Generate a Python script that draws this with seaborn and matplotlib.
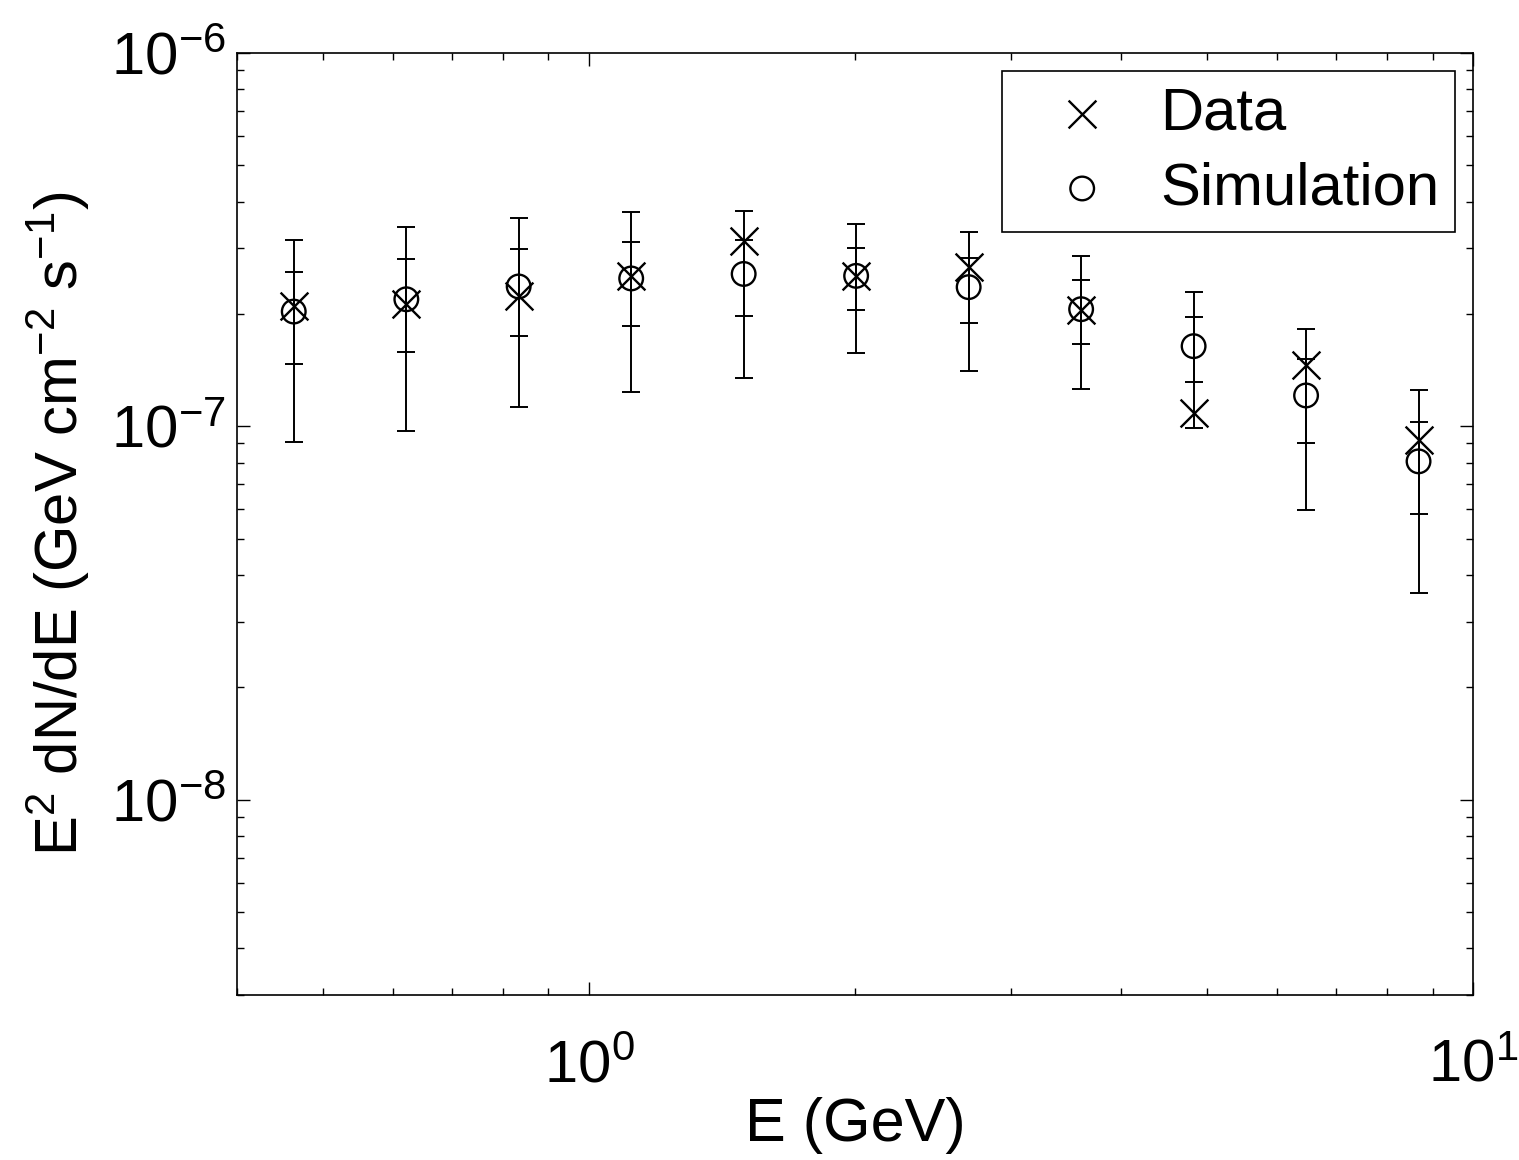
import matplotlib
matplotlib.use("Agg")
import matplotlib.pyplot as plt
import seaborn as sns
from matplotlib.ticker import LogLocator, NullFormatter

# Energy bin centres (GeV)
energy = [0.4637, 0.6217, 0.8330, 1.1166, 1.4966, 2.0059,
          2.6889, 3.6041, 4.8306, 6.4744, 8.6777]

# E^2 dN/dE (GeV cm^-2 s^-1)
data_flux = [2.10e-7, 2.13e-7, 2.24e-7, 2.53e-7, 3.13e-7, 2.53e-7,
             2.67e-7, 2.05e-7, 1.085e-7, 1.46e-7, 9.2e-8]
sim_flux = [2.03e-7, 2.19e-7, 2.37e-7, 2.49e-7, 2.56e-7, 2.53e-7,
            2.36e-7, 2.06e-7, 1.64e-7, 1.21e-7, 8.06e-8]

# Simulation uncertainties: inner (statistical) and outer (total)
sim_err_inner = [0.56e-7, 0.61e-7, 0.62e-7, 0.63e-7, 0.59e-7, 0.476e-7,
                 0.464e-7, 0.40e-7, 0.324e-7, 0.305e-7, 0.222e-7]
sim_err_outer = [1.12e-7, 1.22e-7, 1.24e-7, 1.25e-7, 1.21e-7, 0.96e-7,
                 0.955e-7, 0.80e-7, 0.648e-7, 0.6125e-7, 0.447e-7]

series_labels = ["Data", "Simulation"]
x_label = "E (GeV)"
y_label = r"$\mathregular{E^2\ dN/dE\ (GeV\ cm^{-2}\ s^{-1})}$"

sns.set_style("ticks")
plt.rcParams["font.family"] = ["Liberation Sans", "DejaVu Sans"]
plt.rcParams["mathtext.fontset"] = "custom"
plt.rcParams["mathtext.rm"] = "Liberation Sans"
plt.rcParams["mathtext.it"] = "Liberation Sans:italic"
plt.rcParams["mathtext.bf"] = "Liberation Sans:bold"
plt.rcParams["axes.linewidth"] = 1.2
for key in ("text.color", "axes.labelcolor", "xtick.color", "ytick.color",
            "axes.edgecolor"):
    plt.rcParams[key] = "black"

fig = plt.figure(figsize=(15.19, 11.60), dpi=100)
ax = fig.add_axes([237 / 1519, 165 / 1160, 1236 / 1519, 942 / 1160])

# error bars (outer, then inner) around the simulation values
for err in (sim_err_outer, sim_err_inner):
    ax.errorbar(energy, sim_flux, yerr=err, fmt="none", ecolor="black",
                elinewidth=1.4, capsize=6.5, capthick=1.4, zorder=2)

sns.scatterplot(x=energy, y=data_flux, marker="x", s=20 ** 2, color="black",
                linewidth=1.7, ax=ax, label=series_labels[0], zorder=3)
sns.scatterplot(x=energy, y=sim_flux, marker="o", s=17 ** 2,
                facecolor="none", edgecolor="black", linewidth=1.7,
                ax=ax, label=series_labels[1], zorder=3)

ax.set_xscale("log")
ax.set_yscale("log")
ax.set_xlim(0.4, 10)
ax.set_ylim(3e-9, 1e-6)

for axis in (ax.xaxis, ax.yaxis):
    axis.set_major_locator(LogLocator(base=10))
    axis.set_minor_locator(LogLocator(base=10, subs=range(2, 10)))
    axis.set_minor_formatter(NullFormatter())

ax.tick_params(which="both", direction="in", top=True, right=True,
               color="black", labelcolor="black", width=1.0)
ax.tick_params(which="major", length=9.5, labelsize=43)
ax.tick_params(axis="y", which="major", pad=8)
ax.tick_params(axis="x", which="major", pad=32)
ax.tick_params(which="minor", length=5)

ax.set_xlabel(x_label, fontsize=44, labelpad=2, color="black")
ax.set_ylabel(y_label, fontsize=43, labelpad=14, color="black")

for sp in ax.spines.values():
    sp.set_color("black")
    sp.set_linewidth(1.2)

leg = ax.legend(loc="upper right", fontsize=43, frameon=True, fancybox=False,
                edgecolor="black", framealpha=1, borderpad=0.26,
                handlelength=2.16, handletextpad=0.23, labelspacing=0.33,
                borderaxespad=0.3)
leg.get_frame().set_linewidth(1.2)
for txt in leg.get_texts():
    txt.set_color("black")

fig.savefig("out.png", dpi=100)
